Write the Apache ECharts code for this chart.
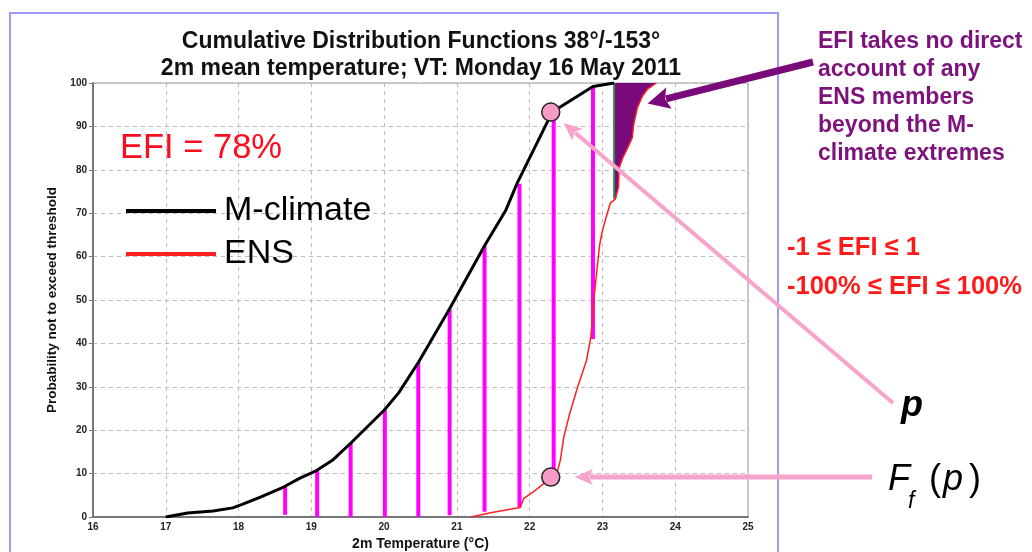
<!DOCTYPE html>
<html>
<head>
<meta charset="utf-8">
<script src="https://cdn.jsdelivr.net/npm/echarts@6/dist/echarts.min.js"></script>
<style>
html, body { margin: 0; padding: 0; background: #fff; }
#cdf-chart { width: 1032px; height: 552px; }
</style>
</head>
<body>
<div id="cdf-chart"></div>
<script>
// axis ticks
const xTicks = [16, 17, 18, 19, 20, 21, 22, 23, 24, 25];
const yTicks = [0, 10, 20, 30, 40, 50, 60, 70, 80, 90, 100];

// [temperature °C, probability %]
const mClimate = [
  [17.0, 0], [17.3, 0.9], [17.65, 1.4], [17.92, 2.1], [18.05, 2.9], [18.3, 4.6],
  [18.62, 6.9], [18.85, 9], [19.05, 10.5], [19.3, 13.2], [19.54, 17], [19.77, 20.8],
  [20.0, 24.6], [20.2, 28.6], [20.47, 35.6], [20.9, 48], [21.38, 62.5], [21.67, 70.6],
  [21.83, 77], [22.31, 93.3], [22.87, 99.2], [23.16, 100]
];
const ens = [
  [21.19, 0], [21.5, 1.1], [21.87, 2.2], [21.92, 4.3], [22.05, 5.8], [22.18, 7.5],
  [22.37, 9.8], [22.42, 13], [22.47, 18.5], [22.55, 23.8], [22.66, 30], [22.78, 36],
  [22.84, 41.4], [22.89, 51.5], [22.96, 62.5], [22.99, 65.3], [23.05, 69], [23.11, 72.4],
  [23.18, 73.3], [23.22, 76], [23.23, 80.5], [23.28, 82.8], [23.34, 84.8], [23.41, 87.4],
  [23.43, 90.5], [23.48, 94.3], [23.55, 97], [23.62, 98.6], [23.74, 100]
];
// vertical differences: [temperature, low, high]
const diffBars = [
  [18.64, 0.5, 7], [19.08, 0, 10.9], [19.54, 0, 17], [20.01, 0, 24.6], [20.47, 0, 35.6],
  [20.9, 0.4, 48], [21.38, 1.2, 62.5], [21.86, 2.2, 76.8], [22.33, 10, 93], [22.87, 41, 99]
];
// M-climate maximum: [temperature, low, high]
const climMax = [[23.16, 73.3, 100]];
// p and Ff(p)
const markedPoints = [[22.29, 93.3], [22.29, 9.2]];

const beyondFill = [[climMax[0][0], climMax[0][1]]]
  .concat(ens.filter(d => d[0] > climMax[0][0]))
  .concat([[climMax[0][0], 100]]);

const chart = echarts.init(document.getElementById('cdf-chart'));

const narrow = '"Liberation Sans Narrow", "Liberation Sans", Arial, sans-serif';
const sans = '"Liberation Sans", Arial, sans-serif';

chart.setOption({
  backgroundColor: '#fff',
  animation: false,
  title: {
    text: 'Cumulative Distribution Functions 38°/-153°\n2m mean temperature; VT: Monday 16 May 2011',
    left: 416,
    top: 23,
    textAlign: 'center',
    textStyle: { fontFamily: sans, fontWeight: 'bold', fontSize: 23, lineHeight: 27, color: '#111' }
  },
  legend: {
    orient: 'vertical',
    left: 121,
    top: 186,
    icon: 'rect',
    itemWidth: 90,
    itemHeight: 4,
    itemGap: 3,
    data: ['M-climate', 'ENS'],
    textStyle: { fontFamily: sans, fontSize: 34, lineHeight: 40, color: '#000', padding: [0, 0, 0, 3] }
  },
  grid: {
    left: 93, right: 284, top: 83, bottom: 35,
    outerBoundsMode: 'none',
    show: true, borderColor: '#999', borderWidth: 1
  },
  xAxis: {
    type: 'value',
    min: xTicks[0],
    max: xTicks[xTicks.length - 1],
    interval: 1,
    name: '2m Temperature (°C)',
    nameLocation: 'middle',
    nameGap: 20,
    nameTextStyle: { fontFamily: sans, fontWeight: 'bold', fontSize: 14, color: '#111' },
    axisLine: { lineStyle: { color: '#777', width: 2 } },
    axisTick: { show: false },
    axisLabel: { fontFamily: narrow, fontWeight: 'bold', fontSize: 10, color: '#222', margin: 5 },
    splitLine: { lineStyle: { color: '#bbb', type: [4, 4] } }
  },
  yAxis: {
    type: 'value',
    min: yTicks[0],
    max: yTicks[yTicks.length - 1],
    interval: 10,
    name: 'Probability not to exceed threshold',
    nameLocation: 'middle',
    nameGap: 25,
    nameTextStyle: { fontFamily: sans, fontWeight: 'bold', fontSize: 13.5, color: '#111' },
    axisLine: { show: true, lineStyle: { color: '#777', width: 2 } },
    axisTick: { show: true, length: 4, lineStyle: { color: '#777' } },
    axisLabel: { fontFamily: narrow, fontWeight: 'bold', fontSize: 10, color: '#222', margin: 6 },
    splitLine: { lineStyle: { color: '#bbb', type: [4, 4] } }
  },
  series: [
    {
      name: 'beyond',
      type: 'custom',
      z: 1,
      data: [0],
      renderItem: (params, api) => ({
        type: 'polygon',
        shape: { points: beyondFill.map(p => api.coord(p)) },
        style: { fill: '#7a0a7a' }
      })
    },
    {
      name: 'clim max',
      type: 'custom',
      z: 2,
      data: climMax,
      encode: { x: 0, y: [1, 2] },
      renderItem: (params, api) => {
        const a = api.coord([api.value(0), api.value(1)]);
        const b = api.coord([api.value(0), api.value(2)]);
        return { type: 'line', shape: { x1: a[0], y1: a[1], x2: b[0], y2: b[1] }, style: { stroke: '#2e8b57', lineWidth: 2 } };
      }
    },
    {
      name: 'diff',
      type: 'custom',
      z: 3,
      data: diffBars,
      encode: { x: 0, y: [1, 2] },
      renderItem: (params, api) => {
        const a = api.coord([api.value(0), api.value(1)]);
        const b = api.coord([api.value(0), api.value(2)]);
        return { type: 'line', shape: { x1: a[0], y1: a[1], x2: b[0], y2: b[1] }, style: { stroke: '#ff00ff', lineWidth: 4 } };
      }
    },
    {
      name: 'ENS',
      type: 'line',
      z: 4,
      data: ens,
      showSymbol: false,
      color: '#ff2020',
      lineStyle: { width: 1.5, color: '#ff2020' }
    },
    {
      name: 'M-climate',
      type: 'line',
      z: 5,
      data: mClimate,
      showSymbol: false,
      color: '#000',
      lineStyle: { width: 3, color: '#000' }
    },
    {
      name: 'points',
      type: 'scatter',
      z: 6,
      data: markedPoints,
      symbolSize: 18,
      itemStyle: { color: '#f79cc8', borderColor: '#222', borderWidth: 1.5, opacity: 1 }
    }
  ]
});

function arrow(from, to, color, width, headLen, headW) {
  const dx = to[0] - from[0], dy = to[1] - from[1];
  const len = Math.hypot(dx, dy);
  const ux = dx / len, uy = dy / len;
  const bx = to[0] - ux * headLen, by = to[1] - uy * headLen;
  const px = -uy * headW / 2, py = ux * headW / 2;
  return [
    { type: 'line', z: 20, shape: { x1: from[0], y1: from[1], x2: bx + ux * 3, y2: by + uy * 3 }, style: { stroke: color, lineWidth: width } },
    { type: 'polygon', z: 20, shape: { points: [[to[0], to[1]], [bx + px, by + py], [bx + ux * 4, by + uy * 4], [bx - px, by - py]] }, style: { fill: color } }
  ];
}

// arrow tips aim at the marked points
const pTop = chart.convertToPixel({ gridIndex: 0 }, markedPoints[0]);
const pBot = chart.convertToPixel({ gridIndex: 0 }, markedPoints[1]);
const tail1 = [893, 403];
const d1 = Math.hypot(tail1[0] - pTop[0], tail1[1] - pTop[1]);
const tip1 = [pTop[0] + (tail1[0] - pTop[0]) / d1 * 17, pTop[1] + (tail1[1] - pTop[1]) / d1 * 17];
const tail2 = [872, pBot[1]];
const tip2 = [pBot[0] + 24, pBot[1]];
const purpleTip = chart.convertToPixel({ gridIndex: 0 }, [23.62, 95.3]);

const pink = '#f7a3cb';
const graphics = [
  { type: 'rect', z: 0, shape: { x: 10, y: 13, width: 768, height: 560 }, style: { fill: 'none', stroke: '#9a9aff', lineWidth: 2 } },
  { type: 'text', z: 20, x: 120, y: 148, style: { text: 'EFI = 78%', font: '34.5px ' + sans, fill: '#ff0a1e', align: 'left', verticalAlign: 'middle' } },
  { type: 'text', z: 20, x: 818, y: 28, style: { text: 'EFI takes no direct\naccount of any\nENS members\nbeyond the M-\nclimate extremes', font: 'bold 23px ' + sans, lineHeight: 28, fill: '#7d127d', align: 'left', verticalAlign: 'top' } },
  { type: 'text', z: 20, x: 787, y: 248, style: { text: '-1 ≤ EFI ≤ 1', font: 'bold 25.5px ' + sans, fill: '#ff1a1a', align: 'left', verticalAlign: 'middle' } },
  { type: 'text', z: 20, x: 787, y: 287, style: { text: '-100% ≤ EFI ≤ 100%', font: 'bold 25.5px ' + sans, fill: '#ff1a1a', align: 'left', verticalAlign: 'middle' } },
  { type: 'text', z: 20, x: 901, y: 406, style: { text: 'p', font: 'italic bold 36px ' + sans, fill: '#000', align: 'left', verticalAlign: 'middle' } },
  { type: 'text', z: 20, x: 888, y: 480, style: { text: 'F', font: 'italic 36px ' + sans, fill: '#000', align: 'left', verticalAlign: 'middle' } },
  { type: 'text', z: 20, x: 908, y: 502, style: { text: 'f', font: 'italic 23px ' + sans, fill: '#000', align: 'left', verticalAlign: 'middle' } },
  { type: 'text', z: 20, x: 929, y: 480, style: { text: '(', font: '36px ' + sans, fill: '#000', align: 'left', verticalAlign: 'middle' } },
  { type: 'text', z: 20, x: 943, y: 480, style: { text: 'p', font: 'italic 36px ' + sans, fill: '#000', align: 'left', verticalAlign: 'middle' } },
  { type: 'text', z: 20, x: 969, y: 480, style: { text: ')', font: '36px ' + sans, fill: '#000', align: 'left', verticalAlign: 'middle' } }
]
  .concat(arrow(tail1, tip1, pink, 4, 18, 16))
  .concat(arrow(tail2, tip2, pink, 5, 18, 16))
  .concat(arrow([813, 62], purpleTip, '#7a0a7a', 7, 22, 22));

chart.setOption({ graphic: graphics });
window.addEventListener('resize', () => { chart.resize(); });
</script>
</body>
</html>
